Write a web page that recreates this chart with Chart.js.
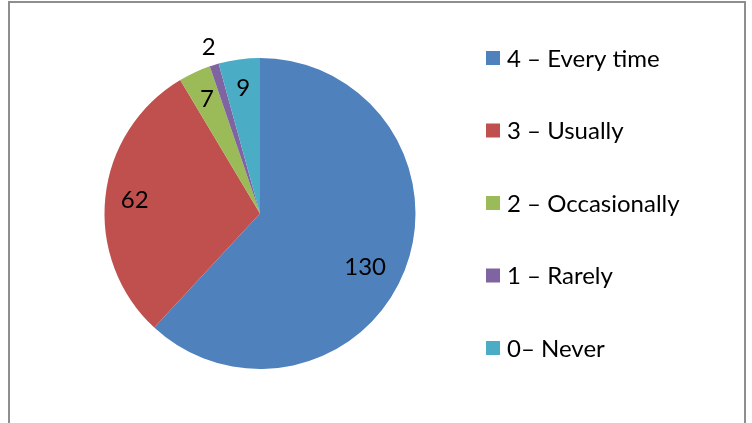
<!DOCTYPE html>
<html>
<head>
<meta charset="utf-8">
<script src="https://cdn.jsdelivr.net/npm/chart.js@4/dist/chart.umd.min.js"></script>
<style>
  html, body {
    margin: 0;
    padding: 0;
    background: #fff;
  }

  .frame {
    position: absolute;
    left: 8px;
    top: 1px;
    width: 734px;
    height: 440px;
    border: 2px solid #8e8e8e;
  }

  .chart-box {
    position: absolute;
    left: 0;
    top: 0;
    width: 752px;
    height: 423px;
  }
</style>
</head>
<body>
<div class="frame"></div>
<div class="chart-box"><canvas id="chart"></canvas></div>
<script>
const categories = ["4 – Every time", "3 – Usually", "2 – Occasionally", "1 – Rarely", "0– Never"];
const responses = [130, 62, 7, 2, 9];
const sliceColors = ["#4f81bd", "#c0504d", "#9bbb59", "#8064a2", "#4bacc6"];

const FONT = "Lato, 'Open Sans', sans-serif";
const FONT_SIZE = 24;

// value labels inside each slice, tiny slices pushed outside
const sliceLabels = {
  id: "slice-labels",
  afterDatasetsDraw(chart) {

    const ctx = chart.ctx;
    const meta = chart.getDatasetMeta(0);
    const data = chart.data.datasets[0].data;
    const total = data.reduce((a, b) => a + b, 0);
    ctx.save();
    ctx.font = `${FONT_SIZE}px ${FONT}`;
    ctx.fillStyle = "#000";
    ctx.textAlign = "center";
    ctx.textBaseline = "middle";
    meta.data.forEach((arc, i) => {
      const { x, y, startAngle, endAngle, outerRadius } = arc.getProps(["x", "y", "startAngle", "endAngle", "outerRadius"], true);
      const share = data[i] / total;
      // big slices sit a little later along the arc, like the office best-fit
      const mid = (startAngle + endAngle) / 2 + (share > 0.5 ? 0.1 : 0);
      const factor = share < 0.015 ? 1.12 : (share > 0.5 ? 0.76 : 0.81);
      ctx.fillText(String(data[i]), x + Math.cos(mid) * outerRadius * factor, y + Math.sin(mid) * outerRadius * factor);
    });
    ctx.restore();
  },
};

// legend drawn to the right of the pie
const sideLegend = {
  id: "side-legend",
  afterDraw(chart) {

    const ctx = chart.ctx;
    const colors = chart.data.datasets[0].backgroundColor;
    const left = chart.chartArea.right + 70;
    const top = 58;
    const step = 72.5;
    ctx.save();
    ctx.font = `${FONT_SIZE}px ${FONT}`;
    ctx.textBaseline = "middle";
    chart.data.labels.forEach((label, i) => {
      const cy = top + i * step;
      ctx.fillStyle = colors[i];
      ctx.fillRect(left, cy - 7, 14, 14);
      ctx.fillStyle = "#000";
      ctx.fillText(label, left + 21, cy + 1);
    });
    ctx.restore();
  },
};

new Chart(document.getElementById("chart"), {
  type: "pie",
  data: {
    labels: categories,
    datasets: [{
      data: responses,
      backgroundColor: sliceColors,
      borderWidth: 0,
    }],
  },
  options: {
    responsive: true,
    maintainAspectRatio: false,
    animation: false,
    layout: {
      padding: { left: 104, top: 58, right: 336, bottom: 54 },
    },
    plugins: {
      legend: { display: false },
      tooltip: { enabled: false },
    },
  },
  plugins: [sliceLabels, sideLegend],
});
</script>
</body>
</html>
